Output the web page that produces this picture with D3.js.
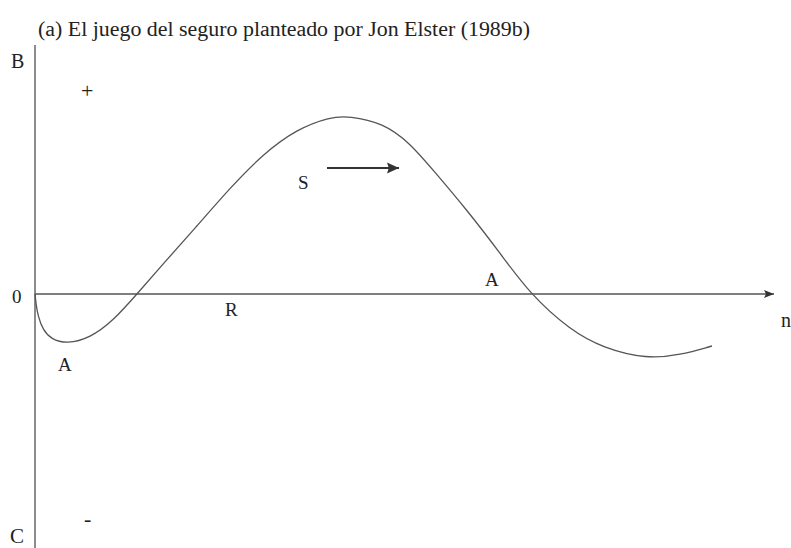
<!DOCTYPE html>
<html>
<head>
  <meta charset="utf-8">
  <style>
    body { margin: 0; background: #fff; }
    svg text { font-family: "Liberation Serif", "DejaVu Serif", serif; fill: #222; }
  </style>
  <script src="https://d3js.org/d3.v7.min.js"></script>
</head>
<body>
  <div id="chart"></div>
  <script>
    // curve: n (horizontal) and payoff (vertical)
    const nValues = [0, 1, 3, 8, 16, 32, 55, 78, 102, 128, 162, 195, 228, 262, 295, 314, 348, 375, 398, 432, 465, 495, 535, 568, 612, 645, 677];
    const payoff = [0, -10, -22, -36, -45, -50, -44, -27, 0, 30, 68, 106, 140, 165, 177, 178, 171, 151, 124, 84, 41, 0, -36, -54, -65, -61, -52];

    const labels = [
      { text: "A", n: 23, v: -77 },
      { text: "R", n: 190, v: -22 },
      { text: "S", n: 263, v: 105 },
      { text: "A", n: 450, v: 8 },
      { text: "+", n: 46, v: 196 },
      { text: "-", n: 49, v: -232 }
    ];

    const svg = d3.select("#chart").append("svg")
      .attr("width", 791)
      .attr("height", 548);

    const x = d3.scaleLinear().domain([0, 740]).range([35, 775]);
    const y = d3.scaleLinear().domain([-254, 250]).range([548, 44]);

    const defs = svg.append("defs");
    defs.append("marker")
      .attr("id", "head")
      .attr("viewBox", "0 0 10 10")
      .attr("refX", 10).attr("refY", 5)
      .attr("markerWidth", 12).attr("markerHeight", 10)
      .attr("markerUnits", "userSpaceOnUse")
      .attr("orient", "auto")
      .append("path")
      .attr("d", "M0,1 L10,5 L0,9 L2,5 Z")
      .attr("fill", "#333");

    defs.append("marker")
      .attr("id", "head2")
      .attr("viewBox", "0 0 10 10")
      .attr("refX", 10).attr("refY", 5)
      .attr("markerWidth", 14).attr("markerHeight", 12)
      .attr("markerUnits", "userSpaceOnUse")
      .attr("orient", "auto")
      .append("path")
      .attr("d", "M0,0.5 L10,5 L0,9.5 L1.5,5 Z")
      .attr("fill", "#333");

    // title
    svg.append("text")
      .attr("x", 38).attr("y", 36)
      .attr("textLength", 492)
      .attr("lengthAdjust", "spacingAndGlyphs")
      .style("font-size", "20px")
      .text("(a) El juego del seguro planteado por Jon Elster (1989b)");

    // vertical axis
    svg.append("line")
      .attr("x1", x(0)).attr("x2", x(0))
      .attr("y1", 45).attr("y2", 548)
      .attr("stroke", "#666").attr("stroke-width", 1.5);

    // horizontal axis with arrow
    svg.append("line")
      .attr("x1", x(0)).attr("x2", 774)
      .attr("y1", y(0)).attr("y2", y(0))
      .attr("stroke", "#555").attr("stroke-width", 1.4)
      .attr("marker-end", "url(#head)");

    // axis letters
    svg.append("text").attr("x", 11).attr("y", 68).style("font-size", "20px").text("B");
    svg.append("text").attr("x", 10).attr("y", 543).style("font-size", "21px").text("C");
    svg.append("text").attr("x", 12).attr("y", 303).style("font-size", "19px").text("0");
    svg.append("text").attr("x", 781).attr("y", 327).style("font-size", "20px").text("n");

    // curve (basis spline smooths the hand-read points)
    const line = d3.line()
      .x(d => x(d))
      .y((d, i) => y(payoff[i]))
      .curve(d3.curveBasis);

    svg.append("path")
      .datum(nValues)
      .attr("fill", "none")
      .attr("stroke", "#555")
      .attr("stroke-width", 1.3)
      .attr("d", line);

    // S arrow
    svg.append("line")
      .attr("x1", x(292)).attr("x2", x(364))
      .attr("y1", y(126)).attr("y2", y(126))
      .attr("stroke", "#333").attr("stroke-width", 2)
      .attr("marker-end", "url(#head2)");

    svg.selectAll(".lbl")
      .data(labels)
      .enter()
      .append("text")
      .attr("class", "lbl")
      .attr("x", d => x(d.n))
      .attr("y", d => y(d.v))
      .style("font-size", d => d.text === "+" || d.text === "-" ? "22px" : "19px")
      .text(d => d.text);
  </script>
</body>
</html>
